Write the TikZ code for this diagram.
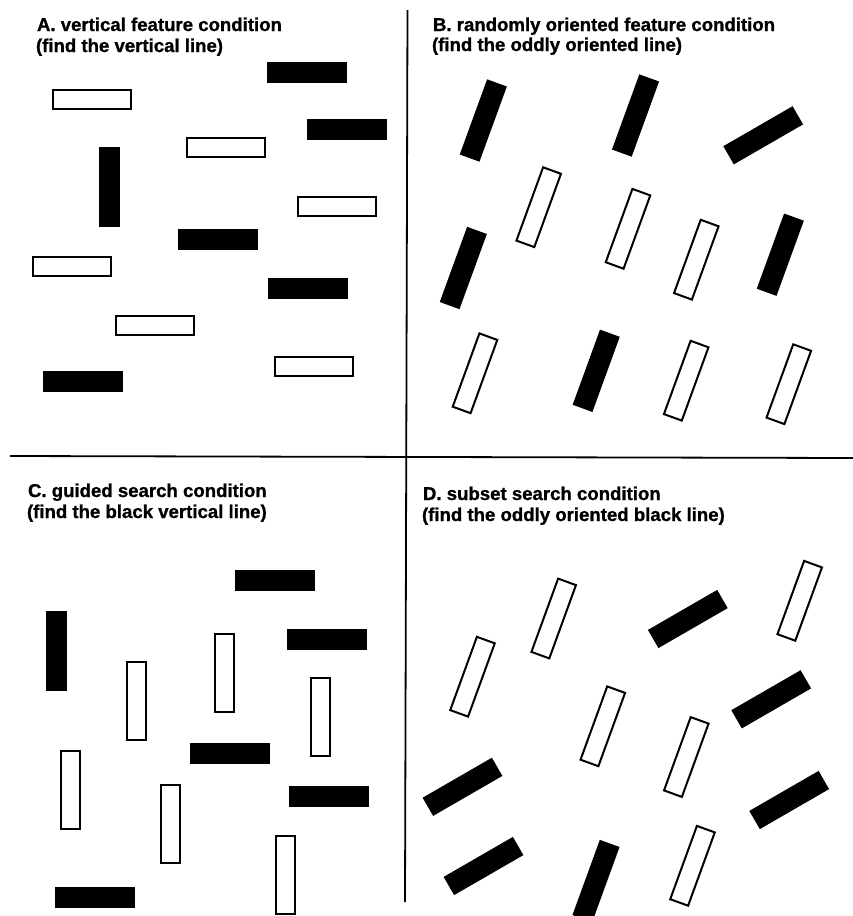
\documentclass[tikz,border=0pt]{standalone}
\usepackage{fontspec}
\setmainfont[BoldFeatures={FakeBold=1}]{Liberation Sans}
\begin{document}
\begin{tikzpicture}[x=1pt,y=-1pt,
  blk/.style={fill=black, draw=none, minimum width=80pt, minimum height=21pt, inner sep=0pt, outer sep=0pt},
  wht/.style={fill=white, draw=black, line width=2pt, minimum width=78pt, minimum height=19pt, inner sep=0pt, outer sep=0pt},
  ttl/.style={anchor=base west, inner sep=0pt, outer sep=0pt, font=\fontsize{18.6}{21}\selectfont\bfseries},
  divider/.style={line width=1.8pt}]
\useasboundingbox (0,0) rectangle (853,916);
% dividers
\coordinate (vtop) at (407.5,10);
\coordinate (vbot) at (405,902);
\coordinate (hl) at (10,456);
\coordinate (hr) at (853,458);
\draw[divider] (vtop) -- (vbot);
\draw[divider] (hl) -- (hr);
% titles
\node[ttl] (tA1) at (37,31) {A. vertical feature condition};
\node[ttl] (tA2) at (36,52) {(find the vertical line)};
\node[ttl] (tB1) at (433,31) {B. randomly oriented feature condition};
\node[ttl] (tB2) at (432,51) {(find the oddly oriented line)};
\node[ttl] (tC1) at (28,497) {C. guided search condition};
\node[ttl] (tC2) at (27,518) {(find the black vertical line)};
\node[ttl] (tD1) at (423,500) {D. subset search condition};
\node[ttl] (tD2) at (422,521) {(find the oddly oriented black line)};
% Panel A
\node[blk] (a1) at (307,72.5) {};
\node[wht] (a2) at (92,99.5) {};
\node[blk] (a3) at (347,129) {};
\node[wht] (a4) at (226,147) {};
\node[blk, rotate=90] (a5) at (109.5,186.5) {};
\node[wht] (a6) at (337,206) {};
\node[blk] (a7) at (218,239) {};
\node[wht] (a8) at (71.5,266) {};
\node[blk] (a9) at (308,288.5) {};
\node[wht] (a10) at (155,325) {};
\node[wht] (a11) at (313.5,366.5) {};
\node[blk] (a12) at (82.5,381) {};
% Panel B
\node[blk, rotate=70] (b1) at (483.3,120.5) {};
\node[blk, rotate=70] (b2) at (635.5,115.5) {};
\node[blk, rotate=30] (b3) at (763.2,135.3) {};
\node[wht, rotate=70] (b4) at (538.7,207.2) {};
\node[wht, rotate=70] (b5) at (628,228.8) {};
\node[wht, rotate=70] (b6) at (696.3,259.7) {};
\node[blk, rotate=70] (b7) at (463.3,268) {};
\node[blk, rotate=70] (b8) at (780.3,254.7) {};
\node[wht, rotate=70] (b9) at (475,373.3) {};
\node[blk, rotate=70] (b10) at (596.2,370.8) {};
\node[wht, rotate=70] (b11) at (686.2,380.7) {};
\node[wht, rotate=70] (b12) at (788.8,384.2) {};
% Panel C
\node[blk] (c1) at (275,580.5) {};
\node[blk, rotate=90] (c2) at (56,651) {};
\node[wht, rotate=90] (c3) at (224.2,673.3) {};
\node[blk] (c4) at (327.3,639.8) {};
\node[wht, rotate=90] (c5) at (136.8,700.8) {};
\node[wht, rotate=90] (c6) at (320.8,716.7) {};
\node[blk] (c7) at (229.7,753.3) {};
\node[wht, rotate=90] (c8) at (70.8,789.5) {};
\node[wht, rotate=90] (c9) at (170.5,823.8) {};
\node[blk] (c10) at (329.3,796.2) {};
\node[wht, rotate=90] (c11) at (285.2,875.3) {};
\node[blk] (c12) at (94.7,897.5) {};
% Panel D
\node[wht, rotate=70] (d1) at (553.7,618.5) {};
\node[blk, rotate=30] (d2) at (687.8,619) {};
\node[wht, rotate=70] (d3) at (799.7,600.8) {};
\node[wht, rotate=70] (d4) at (472.5,676.7) {};
\node[blk, rotate=30] (d5) at (771.2,699.3) {};
\node[wht, rotate=70] (d6) at (602.8,726.3) {};
\node[wht, rotate=70] (d7) at (686.3,757) {};
\node[blk, rotate=30] (d8) at (462.5,786.8) {};
\node[blk, rotate=30] (d9) at (789.2,800) {};
\node[blk, rotate=30] (d10) at (483.5,866) {};
\node[blk, rotate=70] (d11) at (596,881) {};
\node[wht, rotate=70] (d12) at (692.5,865.8) {};
\end{tikzpicture}
\end{document}
